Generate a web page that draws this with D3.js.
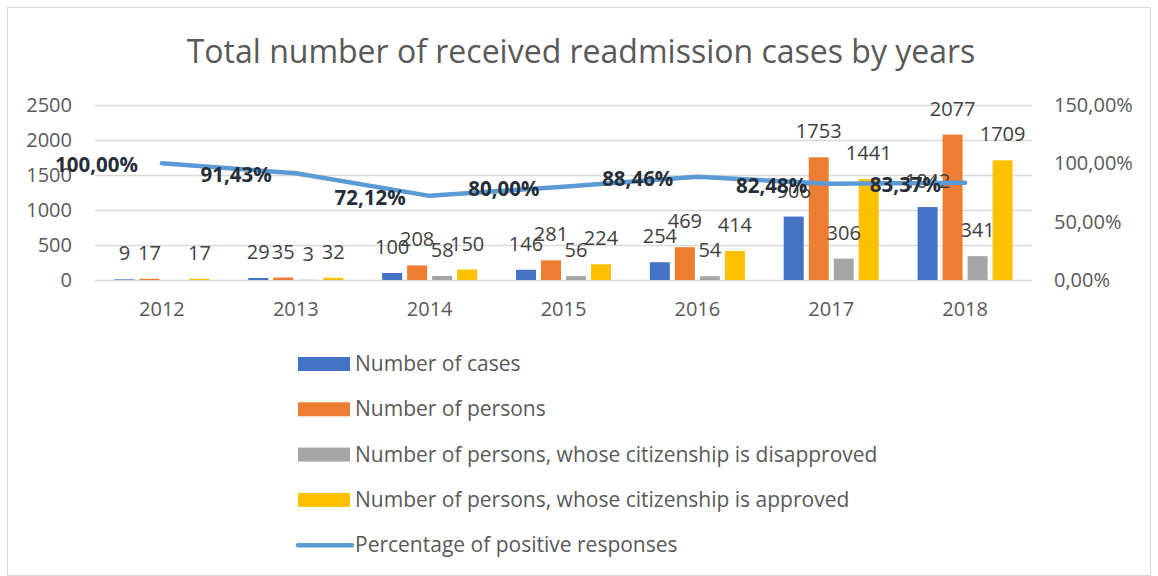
<!DOCTYPE html>
<html>
<head>
<meta charset="utf-8">
<script src="https://cdn.jsdelivr.net/npm/d3@7"></script>
<style>
  body { margin: 0; background: #fff; }
  svg { font-family: "Open Sans", sans-serif; }
</style>
</head>
<body>
<div id="viz"></div>
<script>
var years = ["2012", "2013", "2014", "2015", "2016", "2017", "2018"];
var cases = [9, 29, 100, 146, 254, 906, 1042];
var persons = [17, 35, 208, 281, 469, 1753, 2077];
var disapproved = [null, 3, 58, 56, 54, 306, 341];
var approved = [17, 32, 150, 224, 414, 1441, 1709];
var positive = [1.0, 0.9143, 0.7212, 0.80, 0.8846, 0.8248, 0.8337];
var leftTicks = [0, 500, 1000, 1500, 2000, 2500];
var rightTicks = [0, 0.5, 1.0, 1.5];

var series = [
  { name: "Number of cases", values: cases, color: "#4472C4" },
  { name: "Number of persons", values: persons, color: "#ED7D31" },
  { name: "Number of persons, whose citizenship is disapproved", values: disapproved, color: "#A5A5A5" },
  { name: "Number of persons, whose citizenship is approved", values: approved, color: "#FFC000" }
];
var lineName = "Percentage of positive responses";
var lineColor = "#5B9BD5";

var width = 1158, height = 576;
var svg = d3.select("#viz").append("svg").attr("width", width).attr("height", height);

var pct = function(d) { return d3.format(".2f")(d * 100).replace(".", ",") + "%"; };

// chart border
svg.append("rect")
    .attr("x", 7.5).attr("y", 7.5)
    .attr("width", width - 15).attr("height", height - 8)
    .attr("fill", "none")
    .attr("stroke", "#d9d9d9");

// title
svg.append("text")
    .attr("x", 581).attr("y", 63)
    .attr("text-anchor", "middle")
    .style("font-size", "32px")
    .style("fill", "#595959")
    .text("Total number of received readmission cases by years");

var x = d3.scaleBand().domain(years).range([95, 1032]);
var x1 = d3.scaleBand().domain(d3.range(series.length))
    .range([(x.bandwidth() - 95) / 2, (x.bandwidth() + 95) / 2])
    .paddingInner(0.2);
var yL = d3.scaleLinear().domain([0, 2500]).range([280, 105]);
var yR = d3.scaleLinear().domain([0, 1.5]).range([280, 105]);

// gridlines
svg.append("g").selectAll("line")
    .data(leftTicks)
    .enter().append("line")
    .attr("x1", 95).attr("x2", 1032)
    .attr("y1", function(d) { return Math.round(yL(d)) + 0.5; })
    .attr("y2", function(d) { return Math.round(yL(d)) + 0.5; })
    .attr("stroke", "#d9d9d9")
    .attr("stroke-width", 1.5);

// left axis
var leftAxis = svg.append("g")
    .attr("transform", "translate(95,0)")
    .call(d3.axisLeft(yL).tickValues(leftTicks).tickSize(0).tickPadding(23).tickFormat(d3.format("d")));
leftAxis.select(".domain").remove();
leftAxis.selectAll("text").style("font-size", "20px").style("fill", "#595959").style("font-family", "Open Sans");

// right axis
var rightAxis = svg.append("g")
    .attr("transform", "translate(1032,0)")
    .call(d3.axisRight(yR).tickValues(rightTicks).tickSize(0).tickPadding(22).tickFormat(pct));
rightAxis.select(".domain").remove();
rightAxis.selectAll("text").style("font-size", "20px").style("fill", "#595959").style("font-family", "Open Sans");

// bottom axis
var bottomAxis = svg.append("g")
    .attr("transform", "translate(0,280)")
    .call(d3.axisBottom(x).tickSize(0).tickPadding(22));
bottomAxis.select(".domain").remove();
bottomAxis.selectAll("text").style("font-size", "20px").style("fill", "#595959").style("font-family", "Open Sans");

// bars
var group = svg.append("g").selectAll("g")
    .data(years)
    .enter().append("g")
    .attr("transform", function(d) { return "translate(" + x(d) + ",0)"; });

series.forEach(function(s, si) {
  group.append("rect")
      .attr("x", x1(si))
      .attr("width", x1.bandwidth())
      .attr("y", function(d, i) { return yL(s.values[i] || 0); })
      .attr("height", function(d, i) { return 280 - yL(s.values[i] || 0); })
      .attr("fill", s.color);
});

// bar labels
series.forEach(function(s, si) {
  group.append("text")
      .attr("x", x1(si) + x1.bandwidth() / 2)
      .attr("y", function(d, i) { return yL(s.values[i] || 0) - 19; })
      .attr("text-anchor", "middle")
      .style("font-size", "20px")
      .style("fill", "#404040")
      .text(function(d, i) { return s.values[i] == null ? "" : s.values[i]; });
});

// line
var line = d3.line()
    .x(function(d, i) { return x(years[i]) + x.bandwidth() / 2; })
    .y(function(d) { return yR(d); });

svg.append("path")
    .datum(positive)
    .attr("d", line)
    .attr("fill", "none")
    .attr("stroke", lineColor)
    .attr("stroke-width", 4.5)
    .attr("stroke-linecap", "round")
    .attr("stroke-linejoin", "round");

svg.append("g").selectAll("text")
    .data(positive)
    .enter().append("text")
    .attr("x", function(d, i) { return x(years[i]) + x.bandwidth() / 2 - 24; })
    .attr("y", function(d) { return yR(d) + 9; })
    .attr("text-anchor", "end")
    .style("font-size", "20.5px")
    .style("font-weight", "bold")
    .style("fill", "#262e38")
    .text(pct);

// legend
var legend = svg.append("g").selectAll("g")
    .data(series.concat([{ name: lineName, color: lineColor, line: true }]))
    .enter().append("g")
    .attr("transform", function(d, i) { return "translate(298," + (364 + i * 45.3) + ")"; });

legend.filter(function(d) { return !d.line; }).append("rect")
    .attr("x", 0).attr("y", -7)
    .attr("width", 52).attr("height", 14)
    .attr("fill", function(d) { return d.color; });

legend.filter(function(d) { return d.line; }).append("line")
    .attr("x1", 0).attr("x2", 54)
    .attr("stroke", function(d) { return d.color; })
    .attr("stroke-width", 4.5)
    .attr("stroke-linecap", "round");

legend.append("text")
    .attr("x", 57).attr("y", 7)
    .style("font-size", "21px")
    .style("fill", "#595959")
    .text(function(d) { return d.name; });
</script>
</body>
</html>
